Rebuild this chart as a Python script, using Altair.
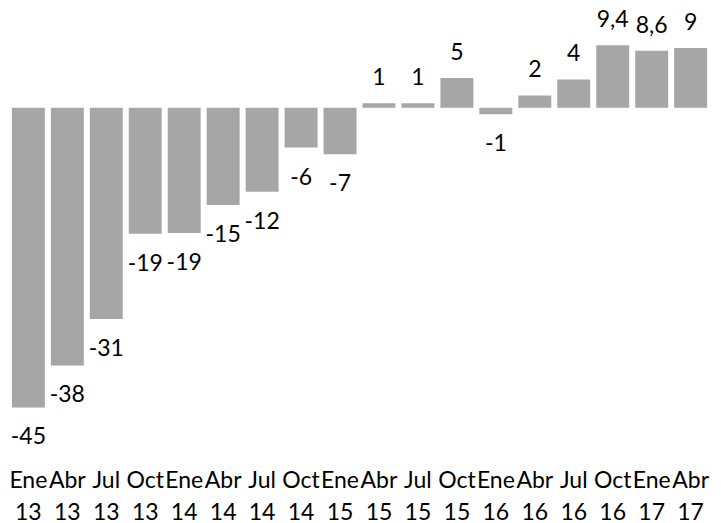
import altair as alt
import pandas as pd

categories = ["Ene 13", "Abr 13", "Jul 13", "Oct 13", "Ene 14", "Abr 14", "Jul 14", "Oct 14",
              "Ene 15", "Abr 15", "Jul 15", "Oct 15", "Ene 16", "Abr 16", "Jul 16", "Oct 16",
              "Ene 17", "Abr 17"]
values = [-45.0, -38.7, -31.7, -18.9, -18.8, -14.6, -12.6, -5.96, -6.96, 0.7, 0.7, 4.5,
          -0.95, 1.86, 4.27, 9.4, 8.57, 8.98]
labels = ["-45", "-38", "-31", "-19", "-19", "-15", "-12", "-6", "-7", "1", "1", "5",
          "-1", "2", "4", "9,4", "8,6", "9"]

df = pd.DataFrame({"cat": categories, "val": values, "lab": labels})

FONT = "Lato"
FS = 23
x_enc = alt.X("cat:N", sort=categories, title=None,
              scale=alt.Scale(paddingInner=0.154, paddingOuter=0.1),
              axis=alt.Axis(labelExpr="split(datum.label, ' ')", labelAngle=0,
                            labelOverlap=False, labelBound=False, domain=False, ticks=False,
                            labelFont=FONT, labelFontSize=FS, labelColor="#000000",
                            labelLineHeight=32, labelPadding=7))
y_enc = alt.Y("val:Q", title=None, scale=alt.Scale(domain=[-53.2, 15], nice=False, zero=True),
              axis=None)

bars = alt.Chart(df).mark_bar(color="#A6A6A6").encode(x=x_enc, y=y_enc)

pos = alt.Chart(df).transform_filter("datum.val >= 0").mark_text(
    font=FONT, fontSize=FS, color="#000000", baseline="middle", align="center", dy=-25
).encode(x=alt.X("cat:N", sort=categories), y="val:Q", text="lab:N")

neg = alt.Chart(df).transform_filter("datum.val < 0").mark_text(
    font=FONT, fontSize=FS, color="#000000", baseline="middle", align="center", dy=30
).encode(x=alt.X("cat:N", sort=categories), y="val:Q", text="lab:N")

chart = alt.layer(bars, pos, neg).properties(
    width=703, height=454, padding=0, background="#FFFFFF"
).configure_view(stroke=None)

chart.save("out.html", embed_options={"renderer": "svg", "actions": False})
